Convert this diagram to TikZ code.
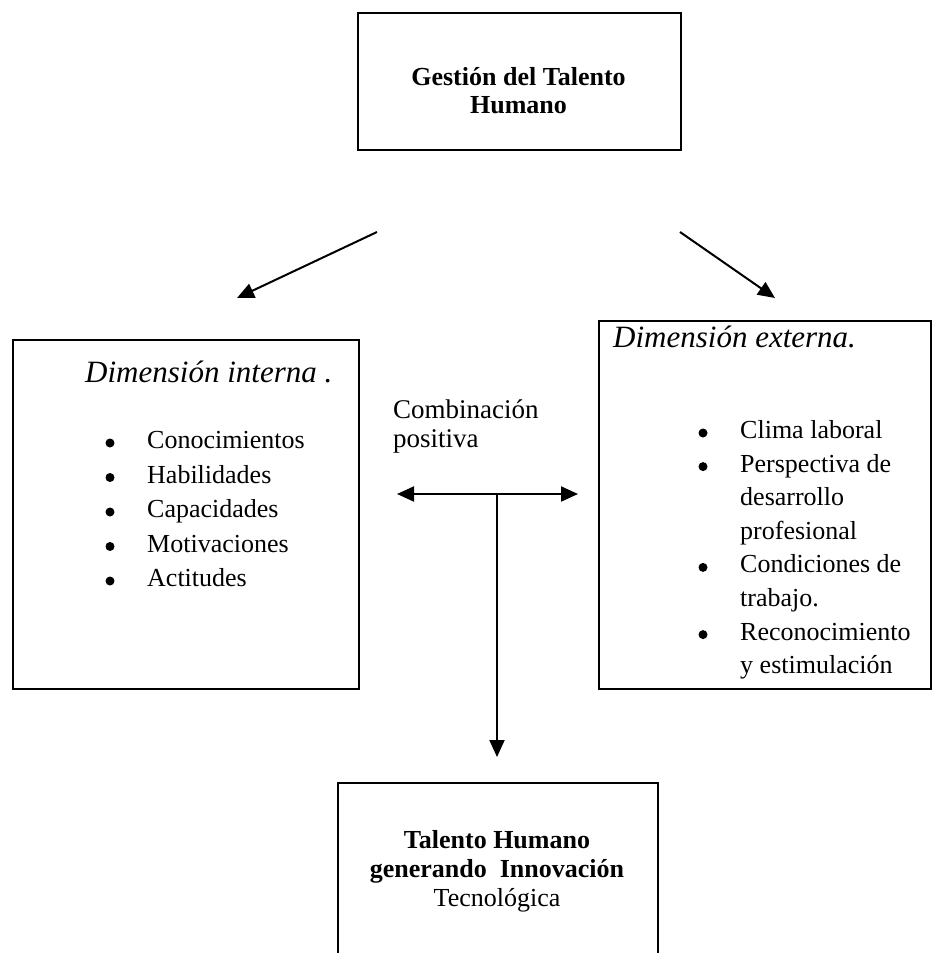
\documentclass[tikz,border=0pt]{standalone}
\usepackage{fontspec}
\setmainfont{Liberation Serif}
\usetikzlibrary{arrows.meta}
\begin{document}
\begin{tikzpicture}[x=1pt,y=-1pt,
  box/.style={draw=black, line width=2.4pt, inner sep=0pt},
  tip/.tip={Triangle[length=17pt,width=15pt]},
  conn/.style={draw=black, line width=2pt, -tip},
  twoway/.style={draw=black, line width=2pt, tip-tip},
  txt/.style={anchor=west, inner sep=0pt, text height=17pt, text depth=6pt},
  item/.style={txt, font=\fontsize{26}{30}\selectfont},
  dot/.style={circle, fill=black, inner sep=0pt, minimum size=9pt},
  heading/.style={txt, font=\fontsize{31}{36}\selectfont\itshape},
  title/.style={align=center, inner sep=0pt, font=\fontsize{26}{28}\selectfont\bfseries}
]
\useasboundingbox (0,0) rectangle (932,953);

% top box
\node[box, minimum width=323pt, minimum height=137pt, anchor=north west] (gth) at (357,12) {};
\node[title] (gtht) at (518.5,91) {Gesti\'on del Talento\\Humano};

% inner dimension box
\node[box, minimum width=346pt, minimum height=349pt, anchor=north west] (din) at (12,339) {};
\node[heading] (dinh) at (85,377) {Dimensi\'on interna .};
\foreach \t [count=\i] in {Conocimientos, Habilidades, Capacidades, Motivaciones, Actitudes} {
  \node[dot] (lb\i) at (110, 443+34.5*\i-34.5) {};
  \node[item] (lt\i) at (147, 443+34.5*\i-34.5) {\t};
}

% outer dimension box
\node[box, minimum width=332pt, minimum height=368pt, anchor=north west] (dex) at (598,320) {};
\node[heading] (dexh) at (613,342) {Dimensi\'on externa.};
\foreach \b/\t [count=\i] in {1/Clima laboral, 1/Perspectiva de, 0/desarrollo, 0/profesional,
                             1/Condiciones de, 0/trabajo., 1/Reconocimiento, 0/y estimulaci\'on} {
  \ifnum\b=1
    \node[dot] (rb\i) at (703, 433+33.6*\i-33.6) {};
  \fi
  \node[item] (rt\i) at (740, 433+33.6*\i-33.6) {\t};
}

% label between the two dimensions
\node[txt, font=\fontsize{27}{30}\selectfont] (cb1) at (393,413) {Combinaci\'on};
\node[txt, font=\fontsize{27}{30}\selectfont] (cb2) at (393,442) {positiva};

% result box, running past the lower edge
\begin{scope}
  \clip (0,0) rectangle (932,953);
  \node[box, minimum width=320pt, minimum height=200pt, anchor=north west] (res) at (337,782) {};
\end{scope}
\node[title, font=\fontsize{26}{29}\selectfont\bfseries] (rest) at (497,871)
  {Talento Humano\\generando\ \ Innovaci\'on\\\mdseries Tecnol\'ogica};

% connectors
\coordinate (a1s) at (377,232);
\coordinate (a1e) at (237,298);
\coordinate (a2s) at (680,232);
\coordinate (a2e) at (775,298);
\coordinate (hl) at (397,494);
\coordinate (hr) at (578,494);
\coordinate (vj) at (497,494);
\coordinate (ve) at (497,757);
\draw[conn] (a1s) -- (a1e);
\draw[conn] (a2s) -- (a2e);
\draw[twoway] (hl) -- (hr);
\draw[conn] (vj) -- (ve);
\end{tikzpicture}
\end{document}
